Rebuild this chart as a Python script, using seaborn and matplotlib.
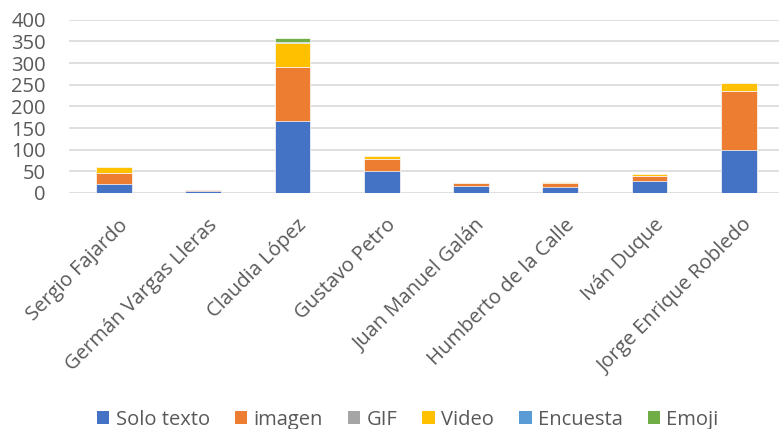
import numpy as np
import pandas as pd
import matplotlib
matplotlib.use("Agg")
import matplotlib.pyplot as plt
import matplotlib.transforms as mtransforms
import seaborn as sns
from matplotlib.patches import Patch

candidates = ["Sergio Fajardo", "Germán Vargas Lleras", "Claudia López", "Gustavo Petro",
              "Juan Manuel Galán", "Humberto de la Calle", "Iván Duque", "Jorge Enrique Robledo"]
solo_texto = [20, 4, 167, 51, 16, 13, 28, 100]
imagen = [27, 3, 123, 27, 6, 11, 11, 136]
gif = [0, 0, 0, 0, 0, 0, 0, 0]
video = [12, 1, 57, 7, 0, 1, 5, 18]
encuesta = [0, 0, 1, 0, 0, 0, 0, 0]
emoji = [0, 0, 9, 0, 0, 0, 0, 1]
series_names = ["Solo texto", "imagen", "GIF", "Video", "Encuesta", "Emoji"]
colors = ["#4472C4", "#ED7D31", "#A5A5A5", "#FFC000", "#5B9BD5", "#70AD47"]
yticks = [0, 50, 100, 150, 200, 250, 300, 350, 400]

sns.set_style("white")
plt.rcParams["font.family"] = ["Open Sans", "DejaVu Sans"]

W, H = 781, 429
fig = plt.figure(figsize=(W / 100, H / 100), dpi=100)
left_px, right_px, bot_px, top_px = 69.3, 779, 193, 19.7
ax = fig.add_axes([left_px / W, 1 - bot_px / H, (right_px - left_px) / W, (bot_px - top_px) / H])

series = [solo_texto, imagen, gif, video, encuesta, emoji]
cum = np.cumsum(np.array(series, dtype=float), axis=0)
for i in range(len(series) - 1, -1, -1):
    df = pd.DataFrame({"cand": candidates, "val": cum[i]})
    sns.barplot(data=df, x="cand", y="val", color=colors[i], ax=ax, width=0.4,
                saturation=1, edgecolor="white", linewidth=0.5, order=candidates)

ax.set_ylim(0, 400)
ax.set_yticks(yticks)
ax.set_yticklabels([str(v) for v in yticks], fontsize=14.5, color="#595959")
ax.yaxis.grid(True, color="#D9D9D9", linewidth=1.2)
ax.set_axisbelow(True)
for s in ax.spines.values():
    s.set_visible(False)
ax.tick_params(axis="both", length=0)
ax.tick_params(axis="y", pad=17)
ax.set_xlabel("")
ax.set_ylabel("")
ax.set_xlim(-0.5, len(candidates) - 0.55)
ax.set_xticks(range(len(candidates)))
ax.set_xticklabels(candidates, rotation=45, ha="right", rotation_mode="anchor",
                   fontsize=14.5, color="#595959")
ax.tick_params(axis="x", pad=16)
offset = mtransforms.ScaledTranslation(4 / 100, 0, fig.dpi_scale_trans)
for lab in ax.get_xticklabels():
    lab.set_transform(lab.get_transform() + offset)

handles = [Patch(facecolor=c, edgecolor="none") for c in colors]
fig.legend(handles, series_names, loc="center", bbox_to_anchor=(0.522, 0.022), ncol=6,
           frameon=False, fontsize=14.5, handlelength=0.62, handleheight=0.62,
           handletextpad=0.3, columnspacing=1.25, labelcolor="#595959")

fig.savefig("out.png", dpi=100)
